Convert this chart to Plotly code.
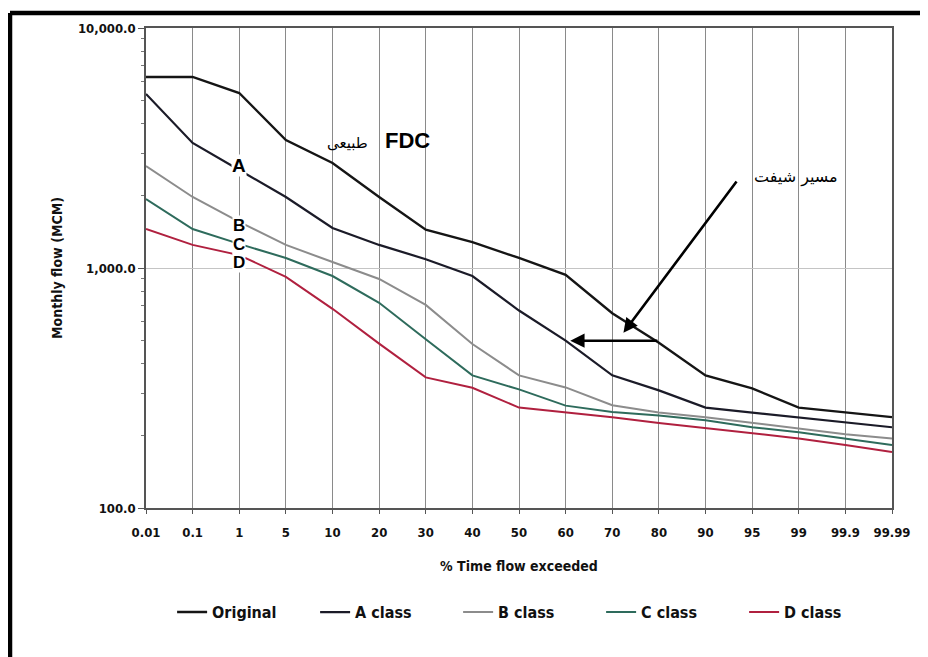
import numpy as np
import plotly.graph_objects as go

categories = ["0.01", "0.1", "1", "5", "10", "20", "30", "40", "50", "60",
              "70", "80", "90", "95", "99", "99.9", "99.99"]

original = [6250, 6250, 5360, 3415, 2738, 1977, 1445, 1282, 1101, 936,
            648, 488, 357, 315, 262, 250, 239]
a_class = [5310, 3318, 2560, 1977, 1468, 1248, 1088, 926, 665, 498,
           357, 309, 262, 250, 239, 228, 217]
b_class = [2660, 1977, 1555, 1248, 1059, 900, 702, 482, 357, 318,
           268, 250, 239, 226, 215, 203, 195]
c_class = [1939, 1454, 1260, 1101, 926, 716, 505, 357, 312, 267,
           251, 243, 232, 217, 207, 195, 183]
d_class = [1454, 1248, 1132, 918, 676, 484, 350, 317, 262, 250,
           239, 226, 215, 205, 195, 183, 171]

y_tickvals = [100, 1000, 10000]
y_ticktext = ["100.0", "1,000.0", "10,000.0"]

series = [
    ("Original", original, "#151515", 2.4),
    ("A class", a_class, "#1b1b28", 2.2),
    ("B class", b_class, "#8c8c8c", 2.0),
    ("C class", c_class, "#2e6b5c", 2.0),
    ("D class", d_class, "#b0203f", 2.0),
]

xi = list(range(len(categories)))
fig = go.Figure()
for name, vals, col, w in series:
    fig.add_trace(go.Scatter(x=xi, y=vals, mode="lines", name=name,
                             line=dict(color=col, width=w)))

fam = "Liberation Sans Narrow, DejaVu Sans Condensed, Liberation Sans"
tickfont = dict(family=fam, size=13, color="#111", weight="bold")

fig.update_layout(
    width=920, height=649,
    margin=dict(l=138, r=36, t=20, b=149),
    paper_bgcolor="white", plot_bgcolor="white",
    showlegend=True,
    legend=dict(orientation="h", x=0.035, y=-0.217, xanchor="left", yanchor="middle",
                font=dict(family=fam, size=16, color="#111", weight="bold"),
                entrywidth=98, entrywidthmode="pixels", bgcolor="rgba(0,0,0,0)"),
    xaxis=dict(range=[0, len(categories) - 1], tickmode="array", tickvals=xi,
               ticktext=categories, tickfont=tickfont, ticklabelstandoff=8,
               showgrid=True, gridcolor="#8a8a8a", gridwidth=1,
               showline=True, linecolor="#555", linewidth=1.5, mirror=True,
               ticks="outside", ticklen=4, tickcolor="#555", zeroline=False,
               title=dict(text="% Time flow exceeded", standoff=22,
                          font=dict(family=fam, size=14, color="#111", weight="bold"))),
    yaxis=dict(type="log", range=[2, 4], tickmode="array", tickvals=y_tickvals,
               ticktext=y_ticktext, tickfont=tickfont,
               showgrid=True, gridcolor="#c4c4c4", gridwidth=1.2,
               showline=True, linecolor="#555", linewidth=1.5, mirror=True,
               ticks="outside", ticklen=6, tickcolor="#555", zeroline=False,
               minor=dict(ticks="outside", ticklen=3, tickcolor="#777", showgrid=False,
                          tickvals=[200, 300, 400, 500, 600, 700, 800, 900,
                                    2000, 3000, 4000, 5000, 6000, 7000, 8000, 9000]),
               title=dict(text="Monthly flow (MCM)", standoff=12,
                          font=dict(family=fam, size=14, color="#111", weight="bold"))),
)

# class labels
for txt, yy, sz in [("A", 3.429, 19), ("B", 3.179, 17), ("C", 3.096, 17), ("D", 3.025, 17)]:
    fig.add_annotation(x=2.0, y=yy, text=txt, showarrow=False,
                       font=dict(family="Liberation Sans, Arial", size=sz, color="#000",
                                 weight="bold"),
                       bgcolor="white", borderpad=0)

fig.add_annotation(x=5.6, y=3.533, text="FDC", showarrow=False,
                   font=dict(family="Liberation Sans, Arial", size=22, color="#000",
                             weight="bold"))
fig.add_annotation(x=4.33, y=3.52, text="طبیعی", showarrow=False,
                   font=dict(family="DejaVu Sans", size=15, color="#000"))
fig.add_annotation(x=13.94, y=3.38, text="مسیر شیفت", showarrow=False,
                   font=dict(family="DejaVu Sans", size=16, color="#000"))

# arrows
fig.add_annotation(x=10.24, y=2.73, ax=12.69, ay=3.367, xref="x", yref="y",
                   axref="x", ayref="y", text="", showarrow=True,
                   arrowhead=2, arrowsize=1.1, arrowwidth=2.6, arrowcolor="#000")
fig.add_annotation(x=9.1, y=2.697, ax=11.0, ay=2.697, xref="x", yref="y",
                   axref="x", ayref="y", text="", showarrow=True,
                   arrowhead=2, arrowsize=1.1, arrowwidth=2.6, arrowcolor="#000")

# outer frame (top and left thick border)
fig.add_shape(type="line", xref="paper", yref="paper", x0=-0.1823, x1=1.2,
              y0=1.031, y1=1.031, line=dict(color="#000", width=4.5))
fig.add_shape(type="line", xref="paper", yref="paper", x0=-0.1823, x1=-0.1823,
              y0=-0.35, y1=1.031, line=dict(color="#000", width=4.5))

fig.write_html("out.html")
